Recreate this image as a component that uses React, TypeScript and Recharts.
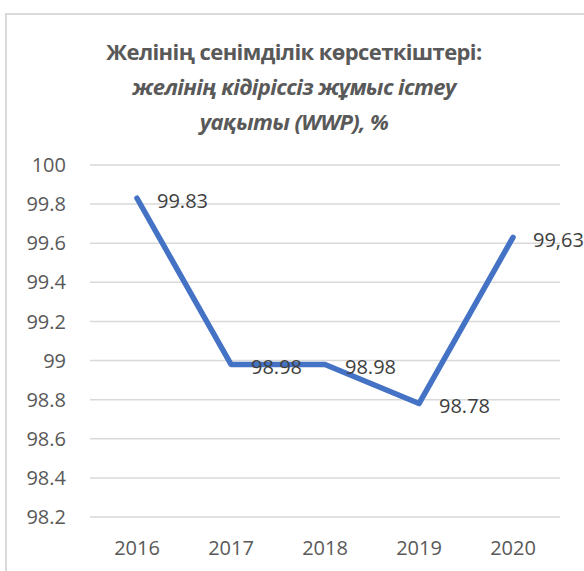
import React from 'react';
import { LineChart, Line, XAxis, YAxis, CartesianGrid, LabelList } from 'recharts';

const years = ['2016', '2017', '2018', '2019', '2020'];
const wwpValues = [99.83, 98.98, 98.98, 98.78, 99.63];
const wwpLabels = ['99.83', '98.98', '98.98', '98.78', '99,63'];
const yTicks = [98.2, 98.4, 98.6, 98.8, 99, 99.2, 99.4, 99.6, 99.8, 100];

const data = years.map((y, i) => ({ year: y, wwp: wwpValues[i], label: wwpLabels[i] }));

const FONT = '"Open Sans", "Noto Sans", sans-serif';

const PointLabel = (props: any) => {
  const { x, y, index } = props;
  return (
    <text x={x + 20} y={y + 4} fill="#404040" fontSize={20} fontFamily={FONT} dominantBaseline="middle">
      {wwpLabels[index]}
    </text>
  );
};

const App: React.FC = () => {
  return (
    <div style={{ position: 'absolute', left: 0, top: 0, width: 584, height: 571, overflow: 'hidden', background: '#fff' }}>
      <div style={{ position: 'absolute', left: 5, top: 13, width: 620, height: 620, border: '2px solid #d9d9d9', boxSizing: 'border-box' }} />
      <div style={{ position: 'absolute', left: 0, top: 34, width: 588, textAlign: 'center', color: '#595959', fontFamily: FONT, fontSize: 22, fontWeight: 700, lineHeight: '35px', letterSpacing: '-0.6px' }}>
        <div>Желінің сенімділік көрсеткіштері:</div>
        <div style={{ fontStyle: 'italic' }}>желінің кідіріссіз жұмыс істеу</div>
        <div style={{ fontStyle: 'italic' }}>уақыты (WWP), %</div>
      </div>
      <div style={{ position: 'absolute', left: 0, top: 0 }}>
        <LineChart width={584} height={571} data={data} margin={{ top: 165, right: 24, bottom: 0, left: 8 }}>
          <CartesianGrid vertical={false} stroke="#d9d9d9" strokeWidth={1.5} />
          <XAxis
            dataKey="year"
            axisLine={false}
            tickLine={false}
            height={54}
            padding={{ left: 47, right: 47 }}
            tickMargin={18}
            tick={{ fill: '#595959', fontSize: 20, fontFamily: FONT }}
          />
          <YAxis
            domain={[98.2, 100]}
            ticks={yTicks}
            axisLine={false}
            tickLine={false}
            width={82}
            tickMargin={18}
            interval={0}
            tick={{ fill: '#595959', fontSize: 20, fontFamily: FONT }}
          />
          <Line
            type="linear"
            dataKey="wwp"
            stroke="#4472C4"
            strokeWidth={5.5}
            strokeLinejoin="round"
            strokeLinecap="round"
            dot={false}
            activeDot={false}
            isAnimationActive={false}
          >
            <LabelList dataKey="label" content={<PointLabel />} />
          </Line>
        </LineChart>
      </div>
    </div>
  );
};

export default App;
